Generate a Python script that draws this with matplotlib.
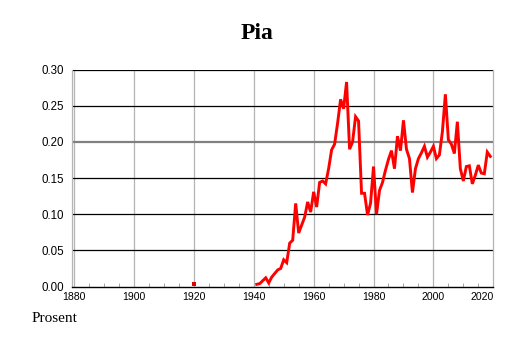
import numpy as np
import matplotlib
matplotlib.use('Agg')
import matplotlib.pyplot as plt

# Andel (prosent) med navnet Pia, per år
aar = list(range(1941, 2020))
prosent = [0.003, 0.004, 0.008, 0.012, 0.005, 0.013, 0.018, 0.023, 0.025, 0.037,
           0.033, 0.060, 0.064, 0.115, 0.074, 0.085, 0.096, 0.117, 0.103, 0.131,
           0.110, 0.144, 0.146, 0.142, 0.163, 0.189, 0.197, 0.226, 0.259, 0.246,
           0.283, 0.190, 0.200, 0.235, 0.229, 0.129, 0.129, 0.099, 0.115, 0.166,
           0.100, 0.133, 0.144, 0.161, 0.176, 0.188, 0.163, 0.208, 0.188, 0.230,
           0.190, 0.177, 0.130, 0.163, 0.177, 0.185, 0.194, 0.179, 0.186, 0.194,
           0.177, 0.182, 0.214, 0.266, 0.203, 0.197, 0.184, 0.228, 0.163, 0.146,
           0.166, 0.167, 0.142, 0.154, 0.168, 0.157, 0.156, 0.186, 0.180]

# enkeltpunkt tidlig
aar_enkelt = [1920]
prosent_enkelt = [0.003]

xticks = [1880, 1900, 1920, 1940, 1960, 1980, 2000, 2020]
yticks = [0.00, 0.05, 0.10, 0.15, 0.20, 0.25, 0.30]

fig = plt.figure(figsize=(5.14, 3.43), dpi=100)
ax = fig.add_axes([0.1407, 0.1647, 0.8190, 0.6321])

ax.set_xlim(1879.4, 2020)
ax.set_ylim(0, 0.30)

# rutenett
for x in xticks[:-1]:
    ax.axvline(x, color='#b4b4b4', lw=0.9, zorder=1)
for y in yticks[1:]:
    if y == 0.20:
        ax.axhline(y, color='#808080', lw=1.6, zorder=1)
    else:
        ax.axhline(y, color='black', lw=0.9, zorder=1)

ax.plot(aar, prosent, color='#ff0000', lw=2.1, zorder=3, solid_joinstyle='miter')
ax.plot(aar_enkelt, prosent_enkelt, 's', color='#e00000', ms=2.4, mew=0, zorder=3)

for side in ['left', 'right', 'top']:
    ax.spines[side].set_color('#b4b4b4')
    ax.spines[side].set_linewidth(0.9)
ax.spines['top'].set_visible(False)
ax.spines['bottom'].set_color('black')
ax.spines['bottom'].set_linewidth(1.0)

ax.set_yticks(yticks)
ax.set_yticklabels([f'{v:.2f}' for v in yticks], fontsize=8.3, family='Liberation Sans')
ax.tick_params(axis='y', length=0, pad=6)

ax.set_xticks(xticks)
ax.set_xticklabels([str(v) for v in xticks], fontsize=7.6, family='Liberation Sans')
ax.tick_params(axis='x', length=0, pad=4)
ax.get_xticklabels()[-1].set_horizontalalignment('right')
ax.set_xticks(np.arange(1885, 2020, 5), minor=True)
ax.tick_params(axis='x', which='minor', direction='in', length=3, color='#999999')

fig.text(0.5, 0.903, 'Pia', ha='center', va='center', fontsize=17,
         fontweight='bold', family='Liberation Serif')
fig.text(0.061, 0.062, 'Prosent', ha='left', va='baseline', fontsize=11,
         family='Liberation Serif')

fig.savefig('out.png', dpi=100)
